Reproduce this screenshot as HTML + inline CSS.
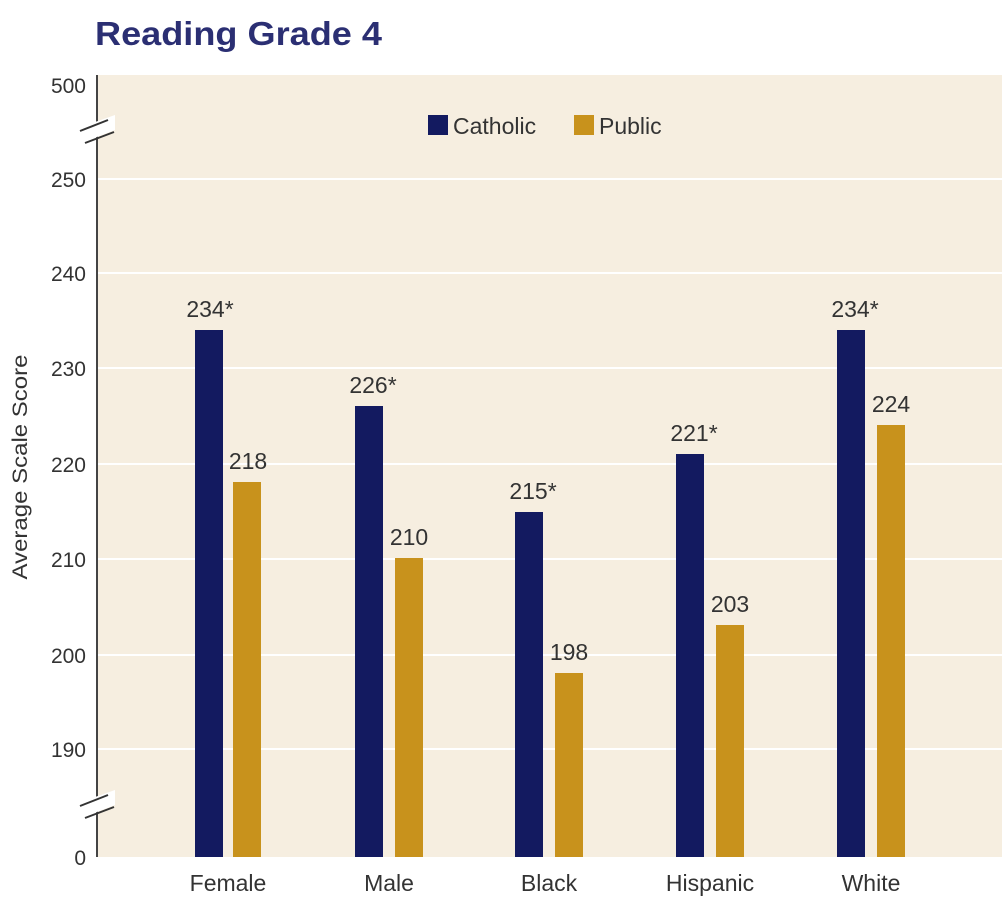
<!DOCTYPE html>
<html><head><style>
body{margin:0;background:#fff;width:1006px;height:908px;overflow:hidden;font-family:"Liberation Sans",sans-serif}
</style></head><body>
<svg width="1006" height="908" xmlns="http://www.w3.org/2000/svg" font-family="Liberation Sans, sans-serif">
<text x="95" y="45" font-size="33" font-weight="bold" fill="#2b2f73" textLength="287" lengthAdjust="spacingAndGlyphs">Reading Grade 4</text>
<rect x="98" y="75" width="904" height="782" fill="#f6eee0"/>
<g stroke="#fff" stroke-width="2">
<line x1="98" x2="1002" y1="179" y2="179"/><line x1="98" x2="1002" y1="273" y2="273"/>
<line x1="98" x2="1002" y1="368" y2="368"/><line x1="98" x2="1002" y1="464" y2="464"/>
<line x1="98" x2="1002" y1="559" y2="559"/><line x1="98" x2="1002" y1="655" y2="655"/>
<line x1="98" x2="1002" y1="749" y2="749"/>
</g>
<line x1="97" y1="75" x2="97" y2="857" stroke="#444" stroke-width="2"/>
<polygon points="78,128 115,115 115,130 84,142" fill="#fff"/>
<line x1="80" y1="131" x2="108" y2="120" stroke="#333" stroke-width="2"/>
<line x1="85" y1="143" x2="114" y2="132" stroke="#333" stroke-width="2"/>
<polygon points="78,803 115,790 115,805 84,817" fill="#fff"/>
<line x1="80" y1="806" x2="108" y2="795" stroke="#333" stroke-width="2"/>
<line x1="85" y1="818" x2="114" y2="807" stroke="#333" stroke-width="2"/>
<g font-size="21" fill="#333" text-anchor="end">
<text x="86" y="93">500</text><text x="86" y="187">250</text><text x="86" y="281">240</text>
<text x="86" y="376">230</text><text x="86" y="472">220</text><text x="86" y="567">210</text>
<text x="86" y="663">200</text><text x="86" y="757">190</text><text x="86" y="865">0</text>
</g>
<text transform="translate(27,467) rotate(-90)" font-size="21" fill="#333" text-anchor="middle" textLength="225" lengthAdjust="spacingAndGlyphs">Average Scale Score</text>
<rect x="428" y="115" width="20" height="20" fill="#131a60"/>
<text x="453" y="134" font-size="23" fill="#333">Catholic</text>
<rect x="574" y="115" width="20" height="20" fill="#c8921c"/>
<text x="599" y="134" font-size="23" fill="#333">Public</text>
<g fill="#131a60">
<rect x="195" y="330" width="28" height="527"/><rect x="355" y="406" width="28" height="451"/>
<rect x="515" y="512" width="28" height="345"/><rect x="676" y="454" width="28" height="403"/>
<rect x="837" y="330" width="28" height="527"/>
</g>
<g fill="#c8921c">
<rect x="233" y="482" width="28" height="375"/><rect x="395" y="558" width="28" height="299"/>
<rect x="555" y="673" width="28" height="184"/><rect x="716" y="625" width="28" height="232"/>
<rect x="877" y="425" width="28" height="432"/>
</g>
<g font-size="23" fill="#333" text-anchor="middle">
<text x="210" y="317">234*</text><text x="248" y="469">218</text>
<text x="373" y="393">226*</text><text x="409" y="545">210</text>
<text x="533" y="499">215*</text><text x="569" y="660">198</text>
<text x="694" y="441">221*</text><text x="730" y="612">203</text>
<text x="855" y="317">234*</text><text x="891" y="412">224</text>
<text x="228" y="891">Female</text><text x="389" y="891">Male</text><text x="549" y="891">Black</text>
<text x="710" y="891">Hispanic</text><text x="871" y="891">White</text>
</g>
</svg>
</body></html>
